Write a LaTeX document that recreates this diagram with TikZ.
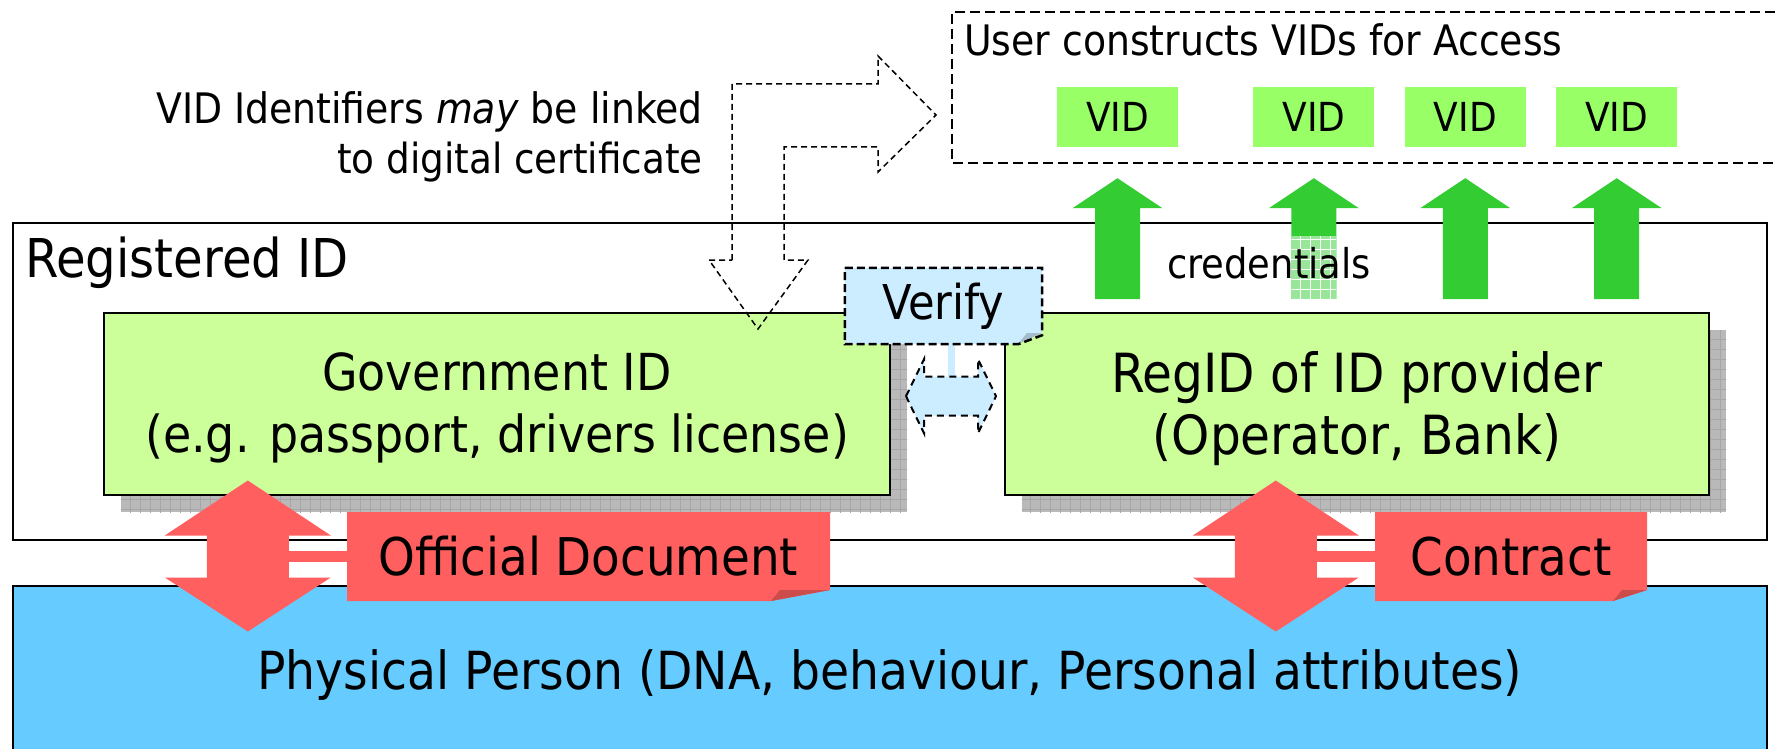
\documentclass[tikz,border=0pt]{standalone}
\usepackage{fontspec}
\setmainfont{DejaVu Sans Condensed}
\usetikzlibrary{calc,positioning,shadows,patterns.meta}

\definecolor{govgreen}{HTML}{CCFF99}
\definecolor{vidgreen}{HTML}{99FF66}
\definecolor{credgreen}{HTML}{33CC33}
\definecolor{docred}{HTML}{FF5F5F}
\definecolor{personblue}{HTML}{66CCFF}
\definecolor{verifyblue}{HTML}{CCECFF}

\tikzset{
  idbox/.style={draw=black, line width=2pt, fill=govgreen, minimum height=182pt, inner sep=0pt,
    align=center, text depth=2pt,
    general shadow={fill=gray!55, shadow xshift=17pt, shadow yshift=-17pt},
    general shadow={pattern={Hatch[angle=0,distance=10pt,line width=.8pt]}, pattern color=gray!70,
      shadow xshift=17pt, shadow yshift=-17pt}},
  vidbox/.style={fill=vidgreen, minimum width=121pt, minimum height=60pt, inner sep=0pt,
    font=\fontsize{40}{48}\selectfont},
  plain/.style={inner sep=0pt},
  accessline/.style={line width=2pt, dash pattern=on 10pt off 5pt},
  linkline/.style={line width=1.5pt, dash pattern=on 6pt off 4pt},
  verifyline/.style={line width=2.5pt, dash pattern=on 8pt off 4pt},
  dogear/.style n args={3}{minimum width=#2, inner sep=0pt, path picture={
      \fill[#1] (path picture bounding box.north west) -- (path picture bounding box.north east)
        -- ([yshift=11pt]path picture bounding box.south east)
        -- ([xshift=-#3]path picture bounding box.south east)
        -- (path picture bounding box.south west) -- cycle;
      \fill[#1!80!black] ([xshift=-#3]path picture bounding box.south east)
        -- ([yshift=11pt]path picture bounding box.south east)
        -- ([xshift=-#3+9pt,yshift=11pt]path picture bounding box.south east) -- cycle;}},
  docnote/.style={minimum height=89pt, font=\fontsize{52}{60}\selectfont}
}

\begin{document}
\begin{tikzpicture}[x=1pt,y=-1pt]
\useasboundingbox (0,0) rectangle (1778,749);

% where the user builds the virtual identities
\draw[accessline] (1790,12) -- (952,12) -- (952,163) -- (1790,163);
\node[plain, anchor=base west, font=\fontsize{42}{48}\selectfont] (accesstitle) at (964,56) {User constructs VIDs for Access};
\node[vidbox] (vid1) at (1117.5,117) {VID};
\node[vidbox, right=75pt of vid1] (vid2) {VID};
\node[vidbox, right=30pt of vid2] (vid3) {VID};
\node[vidbox, right=30pt of vid3] (vid4) {VID};

\node[plain, anchor=base east, font=\fontsize{42}{50}\selectfont] (certnote1) at (703,124) {VID Identifiers \textit{may} be linked};
\node[plain, anchor=base east, font=\fontsize{41.5}{50}\selectfont] (certnote2) at (703,174) {to digital certificate};

% registered identity frame
\draw[line width=2pt] (13,223) rectangle (1767,540);
\node[plain, anchor=base west, font=\fontsize{53.5}{60}\selectfont] (regtitle) at (25,277) {Registered ID};

\node[draw=black, line width=2pt, fill=personblue, minimum width=1754pt, minimum height=178pt,
  font=\fontsize{52.5}{60}\selectfont] (person) at (890,675) {Physical Person (DNA, behaviour, Personal attributes)};

\node[idbox, minimum width=786pt, font=\fontsize{51}{62}\selectfont] (govid) at (497,404) {Government ID\\(e.g. passport, drivers license)};
\node[idbox, minimum width=704pt, font=\fontsize{54}{62}\selectfont, right=113pt of govid] (regid) {RegID of ID provider\\(Operator, Bank)};

% credentials handed up to the VIDs
\foreach \v in {1,...,4}
  \fill[credgreen] ($(vid\v.south)+(-22.5,152)$) -- ++(0,-91) -- ++(-22.5,0) -- ++(45,-30)
    -- ++(45,30) -- ++(-22.5,0) -- ++(0,91) -- cycle;
\fill[credgreen!50] ($(vid2.south)+(-22.5,89)$) rectangle ($(vid2.south)+(22.5,152)$);
\fill[pattern={Hatch[angle=0,distance=10pt,line width=.8pt]}, pattern color=white]
  ($(vid2.south)+(-22.5,89)$) rectangle ($(vid2.south)+(22.5,152)$);
\node[plain, anchor=base, font=\fontsize{41}{48}\selectfont] (credlabel) at (1269,278) {credentials};

% link between VIDs and the government ID
\draw[linkline] (732,260) -- (732,84) -- (878,84) -- (878,56) -- (936,115) -- (878,172) -- (878,147)
  -- (784,147) -- (784,260) -- (808,260) -- (758,329) -- (709,260) -- cycle;

% verification between the two registrations
\node[dogear={verifyblue}{197pt}{24pt}, minimum height=76pt, font=\fontsize{48}{56}\selectfont] (verify) at (943.5,306) {Verify};
\fill[verifyblue] ($(verify.south)+(4.5,0)$) rectangle ($(verify.south)+(11.5,34)$);
\filldraw[fill=verifyblue, line width=2pt, dash pattern=on 7pt off 5pt]
  ($(verify.south)+(-37.5,52)$) -- ++(18,-37) -- ++(0,17.5) -- ++(54,0) -- ++(0,-17.5) -- ++(18,37)
  -- ++(-18,37) -- ++(0,-17.5) -- ++(-54,0) -- ++(0,17.5) -- cycle;
\draw[verifyline] (verify.north west) -- (verify.north east) -- ([yshift=9pt]verify.south east)
  -- ([xshift=-24pt]verify.south east) -- (verify.south west) -- cycle;

% documents binding the person to each registration
\node[dogear={docred}{483pt}{59pt}, docnote] (offdoc) at (588.5,556.5) {Official Document};
\node[dogear={docred}{272pt}{34pt}, docnote] (contract) at (1511,556.5) {Contract};
\foreach \n in {offdoc,contract} {
  \fill[docred] ($(\n.west)+(-99,-76)$) -- ++(83,55) -- ++(-42,0) -- ++(0,42) -- ++(42,0)
    -- ++(-83,54) -- ++(-83,-54) -- ++(42,0) -- ++(0,-42) -- ++(-42,0) -- cycle;
  \fill[docred] ($(\n.west)+(-58,-5.5)$) rectangle ($(\n.west)+(1,5.5)$);
}
\end{tikzpicture}
\end{document}
